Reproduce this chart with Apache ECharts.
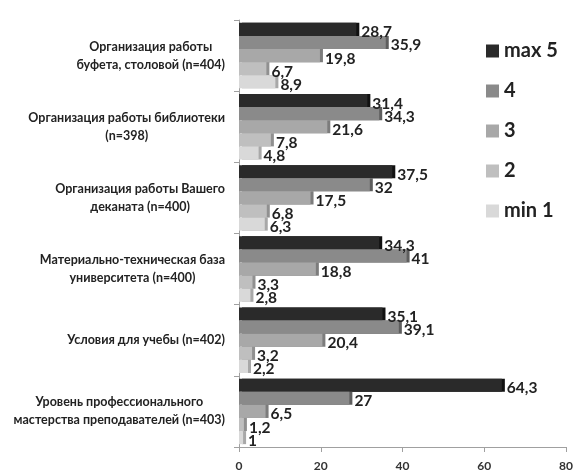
<!DOCTYPE html>
<html>
<head>
<meta charset="utf-8">
<script src="https://cdn.jsdelivr.net/npm/echarts@6/dist/echarts.min.js"></script>
<style>html,body{margin:0;padding:0;background:#fff}#c{width:576px;height:473px}</style>
</head>
<body>
<div id="c"></div>
<script>
var categories = [
  "Организация работы\nбуфета, столовой (n=404)",
  "Организация работы библиотеки\n(n=398)",
  "Организация работы Вашего\nдеканата (n=400)",
  "Материально-техническая база\nуниверситета (n=400)",
  "Условия для учебы (n=402)",
  "Уровень профессионального\nмастерства преподавателей (n=403)"
];
var seriesNames = ["max 5", "4", "3", "2", "min 1"];
var max5 = [28.7, 31.4, 37.5, 34.3, 35.1, 64.3];
var s4 = [35.9, 34.3, 32, 41, 39.1, 27];
var s3 = [19.8, 21.6, 17.5, 18.8, 20.4, 6.5];
var s2 = [6.7, 7.8, 6.8, 3.3, 3.2, 1.2];
var min1 = [8.9, 4.8, 6.3, 2.8, 2.2, 1];
var xTicks = [0, 20, 40, 60, 80];

var values = [max5, s4, s3, s2, min1];
var colors = ["#2a2a2a", "#8a8a8a", "#a8a8a8", "#bfbfbf", "#d9d9d9"];
var shadeColors = ["#111111", "#5e5e5e", "#7c7c7c", "#909090", "#a8a8a8"];
var FONT = "Lato";

var chart = echarts.init(document.getElementById('c'));
chart.setOption({
  animation: false,
  textStyle: { fontFamily: FONT },
  legend: {
    orient: 'vertical',
    left: 481,
    top: 36,
    itemWidth: 13,
    itemHeight: 13,
    itemGap: 20,
    icon: 'rect',
    data: seriesNames,
    textStyle: { fontSize: 20, fontWeight: 'bold', color: '#222', fontFamily: FONT }
  },
  grid: { left: 239, right: 5, top: 20, bottom: 26, containLabel: false },
  xAxis: {
    type: 'value', min: 0, max: 80, interval: 20,
    axisLine: { show: true, lineStyle: { color: '#a0a0a0' } },
    axisTick: { show: true, length: 5, lineStyle: { color: '#a0a0a0' } },
    splitLine: { show: false },
    axisLabel: {
      margin: 13, fontSize: 12, fontWeight: 'bold', color: '#333', fontFamily: FONT,
      formatter: function (v) { return xTicks.indexOf(v) >= 0 ? String(v) : ''; }
    }
  },
  yAxis: {
    type: 'category', inverse: true, data: categories,
    axisLine: { show: true, lineStyle: { color: '#a0a0a0' } },
    axisTick: { show: true, length: 5, lineStyle: { color: '#a0a0a0' } },
    axisLabel: {
      margin: 14, color: '#222', fontFamily: FONT,
      formatter: function (v) {
        return v.split('\n').map(function (l) { return '{c|' + l + '}'; }).join('\n');
      },
      rich: { c: { align: 'center', fontSize: 12.5, fontWeight: 'bold', color: '#222', fontFamily: FONT, lineHeight: 18 } }
    }
  },
  series: values.map(function (d, i) {
    return {
      name: seriesNames[i], type: 'bar', data: d,
      barGap: '0%', barCategoryGap: '8%',
      itemStyle: { color: colors[i], shadowColor: shadeColors[i], shadowOffsetX: 3, shadowOffsetY: 0, shadowBlur: 0 },
      label: {
        show: true, position: 'right', distance: 5, offset: [0, 3],
        fontSize: 15.5, fontWeight: 'bold', color: '#222', fontFamily: FONT,
        formatter: function (p) { return String(p.value).replace('.', ','); }
      }
    };
  })
});
</script>
</body>
</html>
